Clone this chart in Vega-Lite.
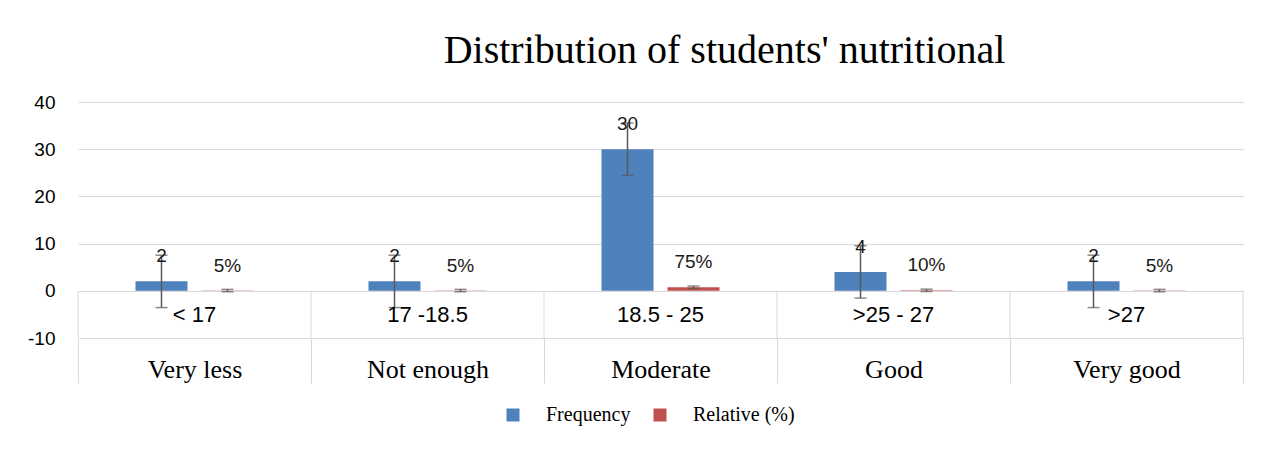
{
  "$schema": "https://vega.github.io/schema/vega-lite/v6.json",
  "autosize": "none",
  "width": 1165,
  "height": 236,
  "padding": {"left": 78, "top": 102, "right": 25, "bottom": 112},
  "background": "white",
  "title": {
    "text": "Distribution of students' nutritional",
    "font": "Liberation Serif",
    "fontSize": 40,
    "fontWeight": "normal",
    "color": "#000000",
    "frame": "group",
    "anchor": "middle",
    "baseline": "alphabetic",
    "offset": -10,
    "dx": 64
  },
  "config": {
    "view": {"stroke": null},
    "axis": {"gridColor": "#d9d9d9", "gridWidth": 1}
  },
  "datasets": {
    "cats": [
      {"cat": "Very less", "range": "< 17"},
      {"cat": "Not enough", "range": "17 -18.5"},
      {"cat": "Moderate", "range": "18.5 - 25"},
      {"cat": "Good", "range": ">25 - 27"},
      {"cat": "Very good", "range": ">27"}
    ],
    "bars": [
      {"cat": "Very less", "series": "Frequency", "value": 2, "lo": -3.55, "hi": 7.55, "label": "2"},
      {"cat": "Very less", "series": "Relative (%)", "value": 0.05, "lo": -0.2, "hi": 0.3, "label": "5%"},
      {"cat": "Not enough", "series": "Frequency", "value": 2, "lo": -3.55, "hi": 7.55, "label": "2"},
      {"cat": "Not enough", "series": "Relative (%)", "value": 0.05, "lo": -0.2, "hi": 0.3, "label": "5%"},
      {"cat": "Moderate", "series": "Frequency", "value": 30, "lo": 24.45, "hi": 35.55, "label": "30"},
      {"cat": "Moderate", "series": "Relative (%)", "value": 0.75, "lo": 0.5, "hi": 1.0, "label": "75%"},
      {"cat": "Good", "series": "Frequency", "value": 4, "lo": -1.55, "hi": 9.55, "label": "4"},
      {"cat": "Good", "series": "Relative (%)", "value": 0.1, "lo": -0.15, "hi": 0.35, "label": "10%"},
      {"cat": "Very good", "series": "Frequency", "value": 2, "lo": -3.55, "hi": 7.55, "label": "2"},
      {"cat": "Very good", "series": "Relative (%)", "value": 0.05, "lo": -0.2, "hi": 0.3, "label": "5%"}
    ]
  },
  "encoding": {
    "x": {
      "field": "cat",
      "type": "nominal",
      "scale": {"domain": ["Very less", "Not enough", "Moderate", "Good", "Very good"], "paddingInner": 0, "paddingOuter": 0},
      "axis": {
        "title": null,
        "domain": false,
        "ticks": true,
        "tickBand": "extent",
        "tickSize": 45,
        "tickColor": "#d9d9d9",
        "tickWidth": 1,
        "labelAngle": 0,
        "labelFont": "Liberation Serif",
        "labelFontSize": 26,
        "labelColor": "#000000",
        "labelBaseline": "alphabetic",
        "labelPadding": -6,
        "grid": false
      }
    }
  },
  "layer": [
    {
      "data": {"name": "bars"},
      "mark": {"type": "bar"},
      "encoding": {
        "xOffset": {"field": "series", "type": "nominal", "scale": {"domain": ["Frequency", "Relative (%)"], "paddingInner": 0.212, "paddingOuter": 0.871}},
        "y": {
          "field": "value",
          "type": "quantitative",
          "scale": {"domain": [-10, 40], "nice": false, "zero": false},
          "axis": {
            "title": null,
            "values": [-10, 0, 10, 20, 30, 40],
            "labelExpr": "'' + datum.value",
            "domain": false,
            "ticks": false,
            "grid": true,
            "labelFont": "Liberation Sans",
            "labelFontSize": 19,
            "labelColor": "#000000",
            "labelPadding": 23
          }
        },
        "y2": {"datum": 0},
        "color": {
          "field": "series",
          "type": "nominal",
          "scale": {"domain": ["Frequency", "Relative (%)"], "range": ["#4F81BD", "#C0504D"]},
          "legend": {
            "title": null,
            "orient": "none",
            "legendX": 425,
            "legendY": 303,
            "direction": "horizontal",
            "symbolType": "square",
            "symbolSize": 169,
            "symbolStrokeWidth": 0,
            "labelFont": "Liberation Serif",
            "labelFontSize": 20,
            "labelColor": "#000000",
            "labelOffset": 23,
            "columnPadding": 19
          }
        }
      }
    },
    {
      "data": {"name": "cats"},
      "mark": {"type": "rule", "color": "#d9d9d9", "strokeWidth": 1},
      "encoding": {
        "x": {"field": "cat", "type": "nominal", "bandPosition": 0},
        "y": {"datum": 0},
        "y2": {"datum": -10}
      }
    },
    {
      "data": {"name": "cats"},
      "transform": [{"filter": "datum.cat === 'Very good'"}],
      "mark": {"type": "rule", "color": "#d9d9d9", "strokeWidth": 1},
      "encoding": {
        "x": {"field": "cat", "type": "nominal", "bandPosition": 1},
        "y": {"datum": 0},
        "y2": {"datum": -10}
      }
    },
    {
      "data": {"name": "bars"},
      "mark": {"type": "rule", "color": "#595959", "strokeWidth": 1.5},
      "encoding": {
        "xOffset": {"field": "series", "type": "nominal"},
        "y": {"field": "lo", "type": "quantitative"},
        "y2": {"field": "hi"}
      }
    },
    {
      "data": {"name": "bars"},
      "mark": {"type": "tick", "color": "#595959", "thickness": 1.5, "size": 12, "orient": "horizontal"},
      "encoding": {
        "xOffset": {"field": "series", "type": "nominal"},
        "y": {"field": "lo", "type": "quantitative"}
      }
    },
    {
      "data": {"name": "bars"},
      "mark": {"type": "tick", "color": "#595959", "thickness": 1.5, "size": 12, "orient": "horizontal"},
      "encoding": {
        "xOffset": {"field": "series", "type": "nominal"},
        "y": {"field": "hi", "type": "quantitative"}
      }
    },
    {
      "data": {"name": "bars"},
      "mark": {"type": "text", "font": "Liberation Sans", "fontSize": 19, "color": "#1a1a1a", "baseline": "middle", "dy": -25},
      "encoding": {
        "xOffset": {"field": "series", "type": "nominal"},
        "y": {"field": "value", "type": "quantitative"},
        "text": {"field": "label"}
      }
    },
    {
      "data": {"name": "cats"},
      "mark": {"type": "text", "font": "Liberation Sans", "fontSize": 22, "color": "#000000", "baseline": "middle", "dy": 1},
      "encoding": {
        "y": {"datum": -5},
        "text": {"field": "range"}
      }
    }
  ]
}
